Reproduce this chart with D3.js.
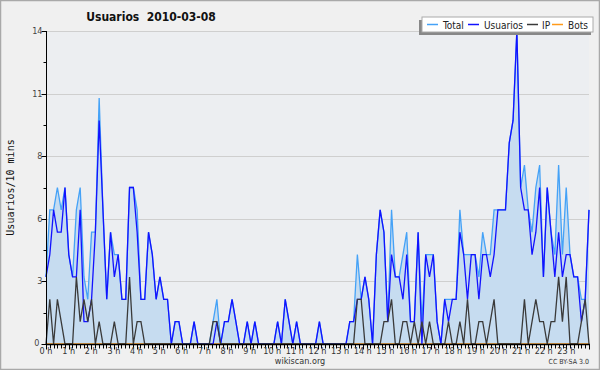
<!DOCTYPE html>
<html>
<head>
<meta charset="utf-8">
<script src="https://cdn.jsdelivr.net/npm/d3@7"></script>
<style>
  html, body { margin: 0; padding: 0; background: #efefef; }
  svg { display: block; }
</style>
</head>
<body>
<div id="chart"></div>
<script>
// Usuarios por 10 minutos, 2010-03-08 (144 intervalos)
const totalVals = [
  3, 6, 6, 7, 6, 7, 4, 3, 6, 7, 3, 2, 5, 5, 11, 6, 2, 5, 4, 4, 2, 2, 7, 7,
  6, 2, 2, 5, 4, 2, 3, 2, 2, 0, 1, 1, 0, 0, 0, 1, 0, 0, 0, 0, 1, 2, 0, 1,
  1, 2, 1, 0, 0, 1, 0, 1, 0, 0, 0, 0, 0, 1, 0, 2, 1, 0, 1, 0, 0, 0, 0, 0,
  1, 0, 0, 0, 0, 0, 0, 0, 1, 1, 4, 2, 3, 2, 0, 4, 6, 5, 1, 6, 3, 3, 4, 5,
  1, 1, 5, 1, 4, 4, 4, 1, 0, 2, 2, 2, 2, 6, 4, 4, 4, 4, 3, 5, 4, 4, 6, 6,
  6, 6, 9, 10, 14, 7, 8, 6, 5, 7, 8, 3, 7, 5, 4, 8, 4, 7, 4, 3, 3, 2, 2, 6
];
const userVals = [
  3, 4, 6, 5, 5, 7, 4, 3, 3, 6, 1, 1, 2, 5, 10, 6, 2, 5, 3, 4, 2, 2, 7, 7,
  5, 2, 2, 5, 4, 2, 3, 2, 2, 0, 1, 1, 0, 0, 0, 1, 0, 0, 0, 0, 0, 1, 0, 1,
  1, 2, 1, 0, 0, 1, 0, 1, 0, 0, 0, 0, 0, 1, 0, 2, 1, 0, 1, 0, 0, 0, 0, 0,
  1, 0, 0, 0, 0, 0, 0, 0, 1, 1, 2, 2, 3, 2, 0, 4, 6, 5, 1, 4, 3, 3, 2, 4,
  1, 1, 5, 0, 4, 3, 4, 1, 0, 2, 1, 2, 2, 5, 4, 2, 4, 4, 2, 4, 4, 3, 4, 6,
  6, 6, 9, 10, 14, 7, 6, 6, 4, 5, 7, 3, 7, 5, 3, 5, 3, 4, 4, 3, 3, 1, 2, 6
];
const ipVals = [
  0, 2, 0, 2, 1, 0, 0, 0, 3, 1, 2, 1, 2, 0, 1, 0, 0, 0, 1, 0, 0, 0, 3, 0,
  1, 1, 0, 0, 0, 0, 0, 0, 0, 0, 0, 0, 0, 0, 0, 0, 0, 0, 0, 0, 1, 1, 0, 0,
  0, 0, 0, 0, 0, 0, 0, 0, 0, 0, 0, 0, 0, 0, 0, 0, 0, 0, 0, 0, 0, 0, 0, 0,
  0, 0, 0, 0, 0, 0, 0, 0, 0, 0, 2, 2, 0, 0, 0, 0, 0, 1, 1, 2, 0, 0, 1, 1,
  0, 1, 0, 1, 0, 1, 0, 0, 0, 0, 1, 0, 0, 1, 0, 2, 0, 0, 1, 1, 0, 1, 2, 0,
  0, 0, 0, 0, 0, 0, 2, 0, 1, 2, 1, 1, 0, 1, 1, 3, 1, 3, 0, 0, 0, 1, 2, 0
];
const botVals = [
  0, 0, 0, 0, 0, 0, 0, 0, 0, 0, 0, 0, 0, 0, 0, 0, 0, 0, 0, 0, 0, 0, 0, 0,
  0, 0, 0, 0, 0, 0, 0, 0, 0, 0, 0, 0, 0, 0, 0, 0, 0, 0, 0, 0, 0, 0, 0, 0,
  0, 0, 0, 0, 0, 0, 0, 0, 0, 0, 0, 0, 0, 0, 0, 0, 0, 0, 0, 0, 0, 0, 0, 0,
  0, 0, 0, 0, 0, 0, 0, 0, 0, 0, 0, 0, 0, 0, 0, 0, 0, 0, 0, 0, 0, 0, 0, 0,
  0, 0, 0, 0, 0, 0, 0, 0, 0, 0, 0, 0, 0, 0, 0, 0, 0, 0, 0, 0, 0, 0, 0, 0,
  0, 0, 0, 0, 0, 0, 0, 0, 0, 0, 0, 0, 0, 0, 0, 0, 0, 0, 0, 0, 0, 0, 0, 0
];
const hourLabels = ["0 h", "1 h", "2 h", "3 h", "4 h", "5 h", "6 h", "7 h", "8 h", "9 h", "10 h", "11 h",
  "12 h", "13 h", "14 h", "15 h", "16 h", "17 h", "18 h", "19 h", "20 h", "21 h", "22 h", "23 h"];
const yTickVals = [0, 2.8, 5.6, 8.4, 11.2, 14];
const yTickLabels = ["0", "3", "6", "8", "11", "14"];
const yMinorVals = [1.4, 4.2, 7, 9.8, 12.6];
const legendNames = ["Total", "Usuarios", "IP", "Bots"];
const legendColors = ["#45a2f7", "#1212ff", "#3a3a3a", "#ff9a1a"];

const width = 600, height = 370;
const margin = { top: 31, right: 11, bottom: 26, left: 46 };
const x0 = margin.left, x1 = width - margin.right;
const y0 = height - margin.bottom, y1 = margin.top;
const condensed = "'DejaVu Sans Condensed', 'DejaVu Sans', sans-serif";

const svg = d3.select("#chart").append("svg")
  .attr("width", width)
  .attr("height", height)
  .style("font-family", condensed);

// fondo y borde
svg.append("rect").attr("x", 0.5).attr("y", 0.5)
  .attr("width", width - 1).attr("height", height - 1)
  .attr("fill", "#f0f0f0").attr("stroke", "#a9a9a9").attr("stroke-width", 1.5);
svg.append("rect").attr("x", x0).attr("y", y1)
  .attr("width", x1 - x0).attr("height", y0 - y1)
  .attr("fill", "#eceef1");

const xHour = d3.scaleLinear().domain([0, 24]).range([x0, x1]);
const xIdx = d3.scaleLinear().domain([0, totalVals.length - 1]).range([x0, x1]);
const y = d3.scaleLinear().domain([0, 14]).range([y0, y1]);

// rejilla
svg.append("g").selectAll("line")
  .data(yTickVals.slice(1))
  .enter().append("line")
  .attr("x1", x0).attr("x2", x1)
  .attr("y1", d => Math.round(y(d)) + 0.5).attr("y2", d => Math.round(y(d)) + 0.5)
  .attr("stroke", "#cfcfcf").attr("stroke-width", 1);

// area + lineas
const area = d3.area()
  .x((d, i) => xIdx(i))
  .y0(y0)
  .y1(d => y(d));
const line = d3.line()
  .x((d, i) => xIdx(i))
  .y(d => y(d));

svg.append("path").datum(totalVals)
  .attr("fill", "#c6dcf0").attr("d", area);

const series = [totalVals, userVals, ipVals, botVals];
[3, 0, 1, 2].forEach(k => {
  svg.append("path").datum(series[k])
    .attr("fill", "none")
    .attr("stroke", legendColors[k])
    .attr("stroke-width", 1.3)
    .attr("d", line);
});

// eje Y
const yAxis = svg.append("g").attr("transform", `translate(${x0 + 0.5},0)`);
yAxis.append("line").attr("y1", y1).attr("y2", y0).attr("stroke", "#000");
yAxis.selectAll(".maj").data(yTickVals).enter().append("line")
  .attr("x1", -5).attr("x2", 0)
  .attr("y1", d => Math.round(y(d)) + 0.5).attr("y2", d => Math.round(y(d)) + 0.5)
  .attr("stroke", "#000");
yAxis.selectAll(".min").data(yMinorVals).enter().append("line")
  .attr("x1", -3).attr("x2", 0)
  .attr("y1", d => Math.round(y(d)) + 0.5).attr("y2", d => Math.round(y(d)) + 0.5)
  .attr("stroke", "#000");
yAxis.selectAll("text").data(yTickVals).enter().append("text")
  .attr("x", d => d === 0 ? -7 : -4)
  .attr("y", d => y(d) + (d === 0 ? 1.5 : 3))
  .attr("text-anchor", "end")
  .attr("font-size", 9).attr("fill", "#444")
  .text((d, i) => yTickLabels[i]);

// eje X
const xAxis = svg.append("g").attr("transform", `translate(0,${y0 + 0.5})`);
xAxis.append("line").attr("x1", x0).attr("x2", x1 + 1).attr("stroke", "#000").attr("stroke-width", 1.5);
xAxis.selectAll(".tk").data(d3.range(0, 24 * 6 + 1)).enter().append("line")
  .attr("x1", d => Math.round(xHour(d / 6)) + 0.5).attr("x2", d => Math.round(xHour(d / 6)) + 0.5)
  .attr("y1", 0).attr("y2", d => d % 6 === 0 ? 5 : 4)
  .attr("stroke", "#000");
xAxis.selectAll("text").data(hourLabels).enter().append("text")
  .attr("x", (d, i) => xHour(i)).attr("y", 9.5)
  .attr("text-anchor", "middle")
  .attr("font-size", 9).attr("fill", "#333")
  .text(d => d);

// titulo
svg.append("text")
  .attr("x", 151).attr("y", 21)
  .attr("text-anchor", "middle")
  .attr("font-size", 12).attr("font-weight", "bold").attr("fill", "#111")
  .style("white-space", "pre")
  .text("Usuarios  2010-03-08");

// etiqueta Y
svg.append("text")
  .attr("transform", `translate(14,${(y0 + y1) / 2}) rotate(-90)`)
  .attr("text-anchor", "middle")
  .attr("font-family", "'DejaVu Sans Mono', monospace")
  .attr("font-size", 10).attr("fill", "#111")
  .text("Usuarios/10 mins");

// pie
svg.append("text")
  .attr("x", 300).attr("y", 364)
  .attr("text-anchor", "middle")
  .attr("font-size", 9).attr("fill", "#333")
  .text("wikiscan.org");
svg.append("text")
  .attr("x", 589).attr("y", 364)
  .attr("text-anchor", "end")
  .attr("font-size", 7).attr("fill", "#333")
  .text("CC BY-SA 3.0");

// leyenda
const lg = svg.append("g").attr("transform", "translate(422,17)");
lg.append("rect").attr("x", -3).attr("y", 3).attr("width", 172).attr("height", 15).attr("fill", "#888");
lg.append("rect").attr("x", 0).attr("y", 0).attr("width", 171).attr("height", 15)
  .attr("fill", "#fff").attr("stroke", "#aaa");
const lineX = [5, 46, 105, 130];
const textX = [21, 62, 120, 146];
legendNames.forEach((n, i) => {
  lg.append("line").attr("x1", lineX[i]).attr("x2", lineX[i] + 11).attr("y1", 7.5).attr("y2", 7.5)
    .attr("stroke", legendColors[i]).attr("stroke-width", 1.5);
  lg.append("text").attr("x", textX[i]).attr("y", 11.5)
    .attr("font-size", 10).attr("fill", "#222").text(n);
});
</script>
</body>
</html>
